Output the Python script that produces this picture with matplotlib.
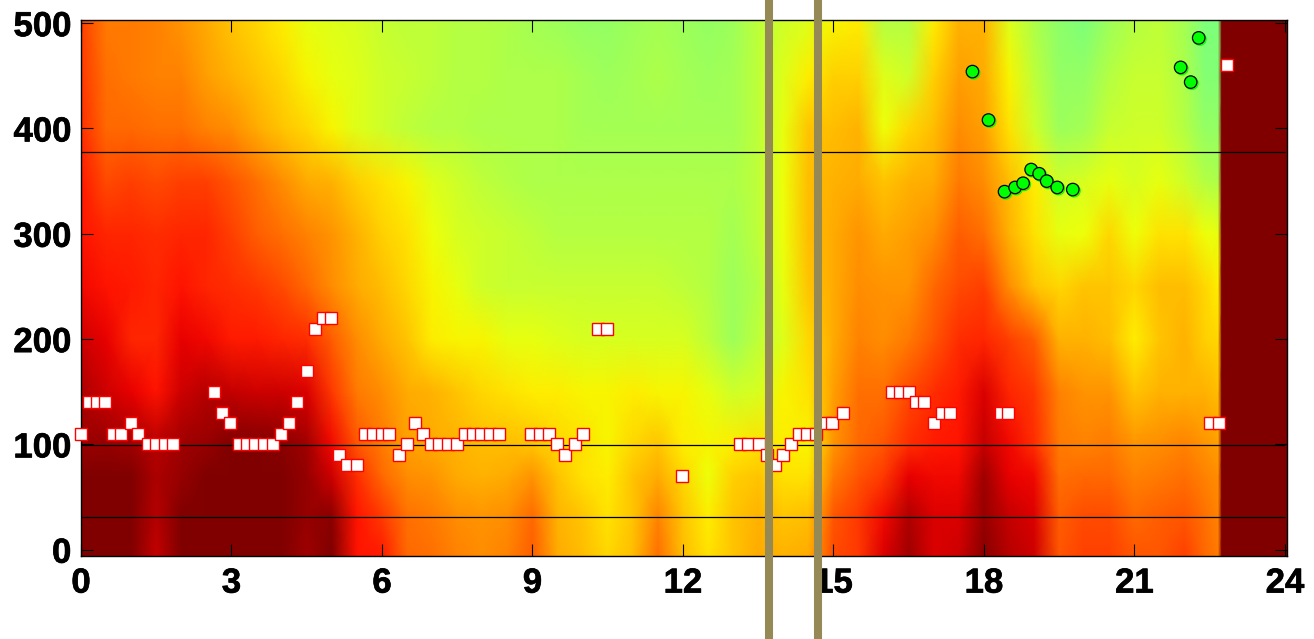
import matplotlib
matplotlib.use("Agg")
import matplotlib.pyplot as plt
import matplotlib.patheffects as pe
import numpy as np

plt.rcParams['font.family'] = ['Liberation Sans', 'DejaVu Sans']

# heat map: columns in hours, rows in height, values are positions on the jet scale
hours = [0, 0.5, 1, 1.5, 2, 2.5, 3, 3.5, 4, 4.5, 5, 5.5, 6, 6.5, 7, 7.5, 8, 8.5, 9, 9.5,
         10, 10.5, 11, 11.5, 12, 12.5, 13, 13.5, 14, 14.5, 15, 15.5, 16, 16.5, 17, 17.5,
         18, 18.5, 19, 19.5, 20, 20.5, 21, 21.5, 22, 22.4, 22.67, 22.74, 24.04]
levels = [-6, 30, 70, 100, 150, 200, 250, 300, 350, 400, 450, 503]

heat_0 = [1, 1, 1, .94, 1, 1, 1, 1, 1, .97, 1, .89, .88, .8, .79, .77, .76, .77, .81, .73,
          .71, .68, .71, .79, .71, .67, .7, .73, .72, .73, .83, .85, .92, .97, .92, .93,
          .99, .95, .93, .82, .84, .84, .82, .82, .84, .8, .78, 1, 1]
heat_30 = [1, 1, 1, .95, 1, 1, 1, 1, 1, .98, .99, .89, .85, .79, .78, .76, .75, .76, .8, .72,
           .7, .67, .7, .77, .7, .66, .7, .72, .7, .71, .82, .85, .9, .96, .92, .92,
           .98, .94, .92, .81, .83, .83, .8, .81, .82, .79, .77, 1, 1]
heat_70 = [1, 1, 1, .96, .98, 1, 1, 1, 1, .98, .93, .86, .8, .76, .75, .73, .72, .73, .75, .7,
           .67, .66, .7, .73, .68, .64, .69, .7, .67, .67, .78, .82, .85, .91, .9, .9,
           .97, .91, .9, .79, .8, .8, .77, .78, .79, .77, .76, 1, 1]
heat_100 = [.98, .98, .97, .95, .97, .98, 1, 1, .99, .97, .9, .82, .78, .74, .73, .72, .71, .71, .7, .68,
            .67, .65, .68, .7, .66, .65, .66, .67, .66, .65, .75, .8, .82, .86, .88, .89,
            .94, .9, .86, .78, .77, .78, .75, .76, .77, .75, .74, 1, 1]
heat_150 = [.96, .93, .91, .89, .93, .95, .94, .93, .93, .92, .85, .78, .76, .73, .72, .7, .68, .67, .66, .66,
            .65, .65, .66, .65, .65, .63, .6, .61, .65, .67, .74, .79, .79, .83, .86, .88,
            .92, .87, .85, .77, .75, .75, .7, .72, .72, .72, .71, 1, 1]
heat_200 = [.93, .91, .87, .87, .91, .9, .88, .88, .87, .86, .81, .76, .73, .7, .66, .65, .65, .63, .63, .62,
            .61, .61, .61, .61, .61, .58, .54, .58, .62, .68, .73, .77, .76, .78, .82, .86,
            .87, .84, .81, .72, .72, .71, .66, .7, .72, .69, .68, 1, 1]
heat_250 = [.9, .89, .88, .87, .89, .87, .86, .85, .83, .8, .76, .73, .71, .68, .65, .63, .6, .59, .59, .59,
            .59, .59, .59, .59, .58, .57, .54, .57, .63, .7, .73, .76, .75, .75, .8, .83,
            .84, .76, .7, .68, .7, .7, .68, .71, .71, .68, .66, 1, 1]
heat_300 = [.89, .87, .87, .86, .87, .87, .84, .81, .79, .77, .75, .72, .69, .67, .64, .61, .6, .59, .58, .57,
            .57, .57, .57, .57, .57, .57, .55, .58, .64, .71, .73, .75, .73, .74, .76, .81,
            .79, .72, .67, .63, .64, .68, .64, .67, .67, .64, .63, 1, 1]
heat_350 = [.88, .83, .84, .83, .84, .84, .82, .79, .76, .73, .72, .69, .67, .65, .62, .6, .58, .57, .56, .56,
            .56, .56, .56, .56, .56, .56, .56, .58, .64, .71, .72, .73, .7, .72, .73, .78,
            .76, .71, .66, .6, .61, .63, .61, .63, .6, .57, .56, 1, 1]
heat_400 = [.86, .8, .8, .79, .79, .77, .76, .73, .7, .68, .65, .62, .6, .58, .57, .57, .56, .56, .56, .56,
            .55, .55, .55, .55, .55, .55, .55, .58, .63, .7, .71, .72, .64, .68, .71, .76,
            .74, .67, .6, .54, .55, .59, .6, .6, .57, .53, .53, 1, 1]
heat_450 = [.85, .79, .78, .77, .77, .74, .72, .7, .68, .65, .63, .62, .6, .59, .58, .57, .57, .56, .56, .56,
            .55, .54, .55, .56, .55, .54, .55, .58, .62, .66, .69, .69, .62, .6, .69, .74,
            .73, .65, .58, .53, .53, .57, .59, .59, .56, .51, .51, 1, 1]
heat_500 = [.84, .78, .78, .77, .75, .73, .7, .68, .66, .63, .62, .61, .59, .58, .58, .57, .57, .56, .55, .54,
            .53, .53, .54, .55, .54, .53, .54, .58, .6, .62, .65, .66, .57, .57, .66, .72,
            .72, .62, .56, .52, .5, .54, .57, .58, .55, .5, .5, 1, 1]

# white squares
square_x = [0, .15, .31, .48, .64, .79, .99, 1.14, 1.33, 1.5, 1.67, 1.83, 2.66, 2.82, 2.98, 3.14, 3.3, 3.47,
            3.64, 3.82, 3.98, 4.14, 4.3, 4.5, 4.66, 4.83, 4.98, 5.14, 5.3, 5.5, 5.67, 5.83, 6.0, 6.14,
            6.33, 6.49, 6.65, 6.81, 6.97, 7.14, 7.31, 7.49, 7.65, 7.82, 7.98, 8.15, 8.33, 8.98, 9.14, 9.33,
            9.48, 9.64, 9.84, 10.0, 10.3, 10.48, 11.99, 13.14, 13.3, 13.51, 13.67, 13.84, 13.99, 14.15,
            14.31, 14.47, 14.66, 14.83, 14.98, 15.18, 16.17, 16.33, 16.5, 16.65, 16.81, 17.0, 17.17, 17.33,
            18.33, 18.48, 22.5, 22.68, 22.84]
square_y = [110, 140, 140, 140, 110, 110, 120, 110, 100, 100, 100, 100, 150, 130, 120, 100, 100, 100,
            100, 100, 110, 120, 140, 170, 210, 220, 220, 90, 80, 80, 110, 110, 110, 110,
            90, 100, 120, 110, 100, 100, 100, 100, 110, 110, 110, 110, 110, 110, 110, 110,
            100, 90, 100, 110, 210, 210, 70, 100, 100, 100, 90, 80, 90, 100,
            110, 110, 110, 120, 120, 130, 150, 150, 150, 140, 140, 120, 130, 130,
            130, 130, 120, 120, 460]

# green circles
circle_x = [17.77, 18.09, 18.41, 18.62, 18.78, 18.94, 19.1, 19.25, 19.46, 19.77, 21.92, 22.12, 22.28]
circle_y = [454, 408, 340, 344, 348, 361, 357, 350, 344, 342, 458, 444, 486]

# horizontal and vertical reference lines
hline_y = [31, 99, 378]
vline_x = [13.71, 14.69]

xticks = [0, 3, 6, 9, 12, 15, 18, 21, 24]
yticks = [0, 100, 200, 300, 400, 500]

Z = np.array([heat_0, heat_30, heat_70, heat_100, heat_150, heat_200,
              heat_250, heat_300, heat_350, heat_400, heat_450, heat_500])

fig = plt.figure(figsize=(13.14, 6.39), dpi=100)
ax = fig.add_axes([81 / 1314, 1 - 555.5 / 639, (1287 - 81) / 1314, (555.5 - 20) / 639])

ax.pcolormesh(hours, levels, Z, shading='gouraud', cmap='jet', vmin=0, vmax=1, zorder=1)

ax.hlines(hline_y, 0, 24, color='black', lw=0.9, zorder=3)

ax.plot(square_x, square_y, ls='none', marker='s', ms=8.3, mfc='white', mec='red', mew=1.0,
        clip_on=False, zorder=4)

shadow = [pe.SimpleLineShadow(offset=(0.8, -0.8), shadow_color='lime', alpha=1), pe.Normal()]
ax.plot(circle_x, circle_y, ls='none', marker='o', ms=9, mfc='lime', mec='black', mew=0.9,
        path_effects=shadow, zorder=5)

for x in vline_x:
    ax.axvline(x, ymin=-0.2, ymax=1.2, color='#958A55', lw=5.8, clip_on=False, zorder=10)

ax.set_xlim(0, 24.04)
ax.set_ylim(-5.5, 503)
ax.set_xticks(xticks)
ax.set_yticks(yticks)
ax.tick_params(direction='in', length=8.6, width=0.8, top=True, right=True, labelsize=25)
ax.tick_params(axis='x', pad=8)
ax.tick_params(axis='y', pad=7)
for label in ax.get_xticklabels() + ax.get_yticklabels():
    label.set_fontweight('bold')
    label.set_path_effects([pe.withStroke(linewidth=0.5, foreground='black')])
for spine in ax.spines.values():
    spine.set_linewidth(1.0)

fig.savefig('out.png', dpi=100)
